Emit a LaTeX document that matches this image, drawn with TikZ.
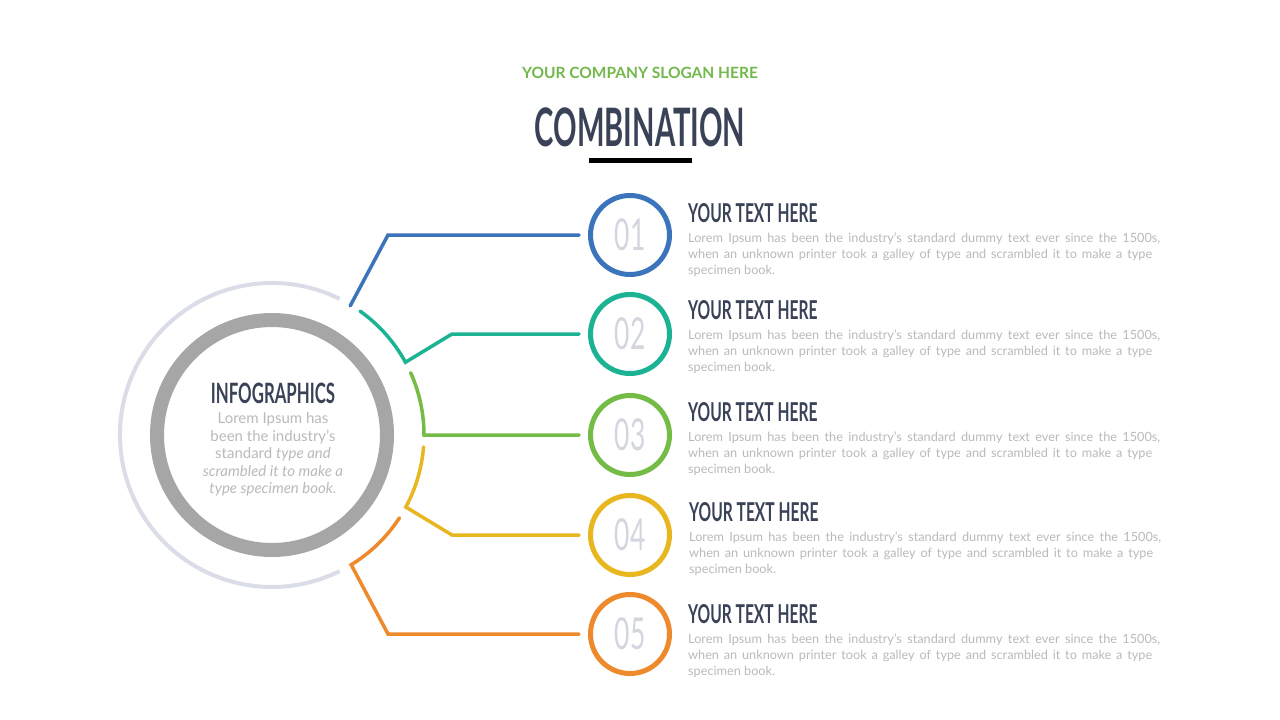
\documentclass[tikz,border=0pt]{standalone}
\usepackage{fontspec}
\setmainfont{Lato}
\newfontfamily\headfont[FakeStretch=0.6]{Lato}
\newfontfamily\titlefont[FakeStretch=0.55]{Lato}
\usetikzlibrary{arrows.meta,positioning}

\definecolor{slogangreen}{HTML}{72B84A}
\definecolor{titleslate}{HTML}{3A4258}
\definecolor{numgray}{HTML}{D3D6DF}
\definecolor{bodygray}{HTML}{BABABA}
\definecolor{ringgray}{HTML}{A6A6A6}
\definecolor{ringlight}{HTML}{DADCE7}
\definecolor{armblue}{HTML}{3B74BA}
\definecolor{armteal}{HTML}{1CB394}
\definecolor{armgreen}{HTML}{74BC45}
\definecolor{armyellow}{HTML}{E8B720}
\definecolor{armorange}{HTML}{EE8A2C}

\newcommand{\loremtext}{%
\makebox[472pt][s]{Lorem Ipsum has been the industry's standard dummy text ever since the 1500s,}\\
\makebox[464pt][s]{when an unknown printer took a galley of type and scrambled it to make a type}\\
specimen book.}

\begin{document}
\begin{tikzpicture}[
				x=1pt, y=1pt,
				node distance=6pt,
				ring/.style={
					draw=#1,
					circle,
					line width=5pt,
					minimum size=79pt,
					inner sep=0pt,
					font=\headfont\fontsize{44}{44}\selectfont,
					text=numgray
				},
				arm/.style={
					draw=#1,
					line width=3.5pt,
					line cap=round,
					shorten >=9pt
				},
				headtext/.style={
					font=\headfont\bfseries\fontsize{26}{26}\selectfont,
					text=titleslate,
					anchor=west,
					inner sep=0pt
				},
				bodytext/.style={
					font=\fontsize{12.7}{16}\selectfont,
					text=bodygray,
					align=left,
					inner sep=0pt
				}
				]
				\useasboundingbox (0,0) rectangle (1280,-720);
				\fill[white] (0,0) rectangle (1280,-720);
				
				% title block
				\node[font=\bfseries\fontsize{15.5}{16}\selectfont, text=slogangreen] (slogan) at (640,-73) {YOUR COMPANY SLOGAN HERE};
				\node[font=\titlefont\bfseries\fontsize{53}{53}\selectfont, text=titleslate] (title) at (640,-127) {COMBINATION};
				\node[fill=black, minimum width=103pt, minimum height=5pt, inner sep=0pt] (bar) at (640,-160.5) {};
				
				% hub
				\node[circle, draw=ringgray, line width=14pt, minimum size=230pt, inner sep=0pt] (hub) at (272,-435) {};
				\draw[draw=ringlight, line width=4pt] ([shift={(63.6:152)}]hub.center) arc[start angle=63.6, end angle=296.4, radius=152];
				\node[font=\headfont\bfseries\fontsize{28}{28}\selectfont, text=titleslate, inner sep=0pt] (infotitle) at (273,-393) {INFOGRAPHICS};
				\node[font=\fontsize{15}{17.5}\selectfont, text=bodygray, align=center, inner sep=0pt, below=9pt of infotitle] (infotext)
				{Lorem Ipsum has\\been the industry's\\standard \textit{type and}\\\textit{scrambled it to make a}\\\textit{type specimen book.}};
				
				% numbered circles
				\node[ring=armblue] (c1) at (630,-235) {01};
				\node[ring=armteal] (c2) at (630,-334) {02};
				\node[ring=armgreen] (c3) at (630,-435) {03};
				\node[ring=armyellow] (c4) at (630,-535) {04};
				\node[ring=armorange] (c5) at (630,-634) {05};
				
				% connectors
				\draw[arm=armblue] ([shift={(58.8:151)}]hub.center) -- (388,-235) -- (c1);
				\draw[arm=armteal] ([shift={(54.6:152)}]hub.center) arc[start angle=54.6, end angle=28.6, radius=152] -- (452,-334) -- (c2);
				\draw[arm=armgreen] ([shift={(24.2:152)}]hub.center) arc[start angle=24.2, end angle=0, radius=152] -- (c3);
				\draw[arm=armyellow] ([shift={(-4.5:152)}]hub.center) arc[start angle=-4.5, end angle=-28.3, radius=152] -- (452,-535) -- (c4);
				\draw[arm=armorange] ([shift={(-33:152)}]hub.center) arc[start angle=-33, end angle=-58.6, radius=152] -- (388,-634) -- (c5);
				
				% texts
				\node[headtext] (h1) at (688,-213) {YOUR TEXT HERE};
				\node[bodytext, below right=10pt and 0pt of h1.south west] (t1) {\loremtext};
				\node[headtext] (h2) at (688,-310) {YOUR TEXT HERE};
				\node[bodytext, below right=10pt and 0pt of h2.south west] (t2) {\loremtext};
				\node[headtext] (h3) at (688,-412) {YOUR TEXT HERE};
				\node[bodytext, below right=10pt and 0pt of h3.south west] (t3) {\loremtext};
				\node[headtext] (h4) at (689,-512) {YOUR TEXT HERE};
				\node[bodytext, below right=10pt and 0pt of h4.south west] (t4) {\loremtext};
				\node[headtext] (h5) at (688,-614) {YOUR TEXT HERE};
				\node[bodytext, below right=10pt and 0pt of h5.south west] (t5) {\loremtext};
			\end{tikzpicture}
\end{document}
